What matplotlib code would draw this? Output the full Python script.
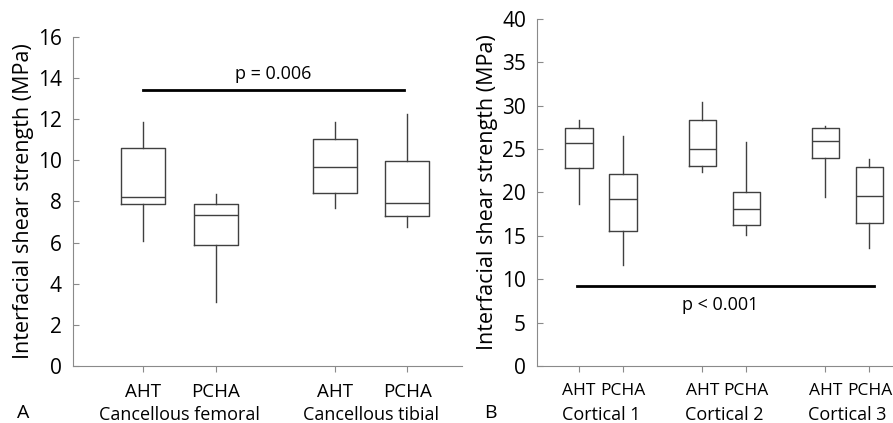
import numpy as np
import matplotlib.pyplot as plt

plt.rcParams['font.family'] = ['Open Sans', 'DejaVu Sans']

# ---------------------------------------------------------------------
# Panel A: cancellous bone (whisker low, Q1, median, Q3, whisker high)
a_labels = ["AHT", "PCHA", "AHT", "PCHA"]
a_groups = ["Cancellous femoral", "Cancellous tibial"]
a_low = [6.1, 3.1, 7.7, 6.75]
a_q1 = [7.88, 5.9, 8.4, 7.28]
a_med = [8.23, 7.32, 9.68, 7.94]
a_q3 = [10.6, 7.87, 11.05, 9.98]
a_high = [11.85, 8.37, 11.87, 12.27]

# Panel B: cortical bone
b_labels = ["AHT", "PCHA", "AHT", "PCHA", "AHT", "PCHA"]
b_groups = ["Cortical 1", "Cortical 2", "Cortical 3"]
b_low = [18.65, 11.6, 22.4, 15.15, 19.45, 13.55]
b_q1 = [22.8, 15.55, 23.05, 16.2, 23.95, 16.45]
b_med = [25.65, 19.25, 25.0, 18.15, 25.95, 19.6]
b_q3 = [27.45, 22.15, 28.3, 20.1, 27.45, 22.95]
b_high = [28.35, 26.5, 30.45, 25.8, 27.65, 23.85]
#----------------------------------------------------------------------

box_col = '#404040'
spine_col = '#8a8a8a'


def make_stats(low, q1, med, q3, high):
    stats = []
    for i in range(len(low)):
        stats.append(dict(whislo=low[i], q1=q1[i], med=med[i], q3=q3[i],
                          whishi=high[i], fliers=[]))
    return stats


def style_axis(ax, xsize):
    ax.spines['top'].set_visible(False)
    ax.spines['right'].set_visible(False)
    ax.spines['left'].set_color(spine_col)
    ax.spines['bottom'].set_color(spine_col)
    ax.tick_params(axis='y', direction='in', length=4, color=spine_col,
                   labelsize=15, pad=8)
    ax.tick_params(axis='x', direction='out', length=4, color=spine_col,
                   labelsize=xsize, pad=8)


line_props = dict(color=box_col, linewidth=1.0)

fig = plt.figure(figsize=(8.93, 4.23), dpi=100)

# ----- Panel A -----
ax1 = fig.add_axes([0.0817, 0.1348, 0.4356, 0.7778])
pos_a = [0, 1, 2.63, 3.62]
ax1.bxp(make_stats(a_low, a_q1, a_med, a_q3, a_high), positions=pos_a,
        widths=0.6, showcaps=False, boxprops=line_props,
        whiskerprops=line_props, medianprops=line_props)
ax1.set_xlim(-0.96, 4.37)
ax1.set_ylim(0, 16)
ax1.set_yticks(np.arange(0, 17, 2))
ax1.set_xticks(pos_a)
ax1.set_xticklabels(a_labels)
style_axis(ax1, 13.5)
ax1.set_ylabel("Interfacial shear strength (MPa)", fontsize=15.5, labelpad=3)
ax1.plot([0, 3.58], [13.4, 13.4], color='black', linewidth=2, clip_on=False)
ax1.text(1.78, 13.75, "p = 0.006", ha='center', va='bottom', fontsize=13)
for i, g in enumerate(a_groups):
    cx = (pos_a[2 * i] + pos_a[2 * i + 1]) / 2
    ax1.text(cx, -0.15, g, transform=ax1.get_xaxis_transform(),
             ha='center', va='center', fontsize=13)
fig.text(23 / 893, 1 - 413 / 423, "A", ha='center', va='center', fontsize=14)

# ----- Panel B -----
ax2 = fig.add_axes([537 / 893, 0.1348, (905 - 537) / 893, (366 - 19) / 423])
pos_b = [0, 1, 2.8, 3.8, 5.6, 6.6]
ax2.bxp(make_stats(b_low, b_q1, b_med, b_q3, b_high), positions=pos_b,
        widths=0.62, showcaps=False, boxprops=line_props,
        whiskerprops=line_props, medianprops=line_props)
ax2.set_xlim(-0.955, (905 - 579) / 44)
ax2.set_ylim(0, 40)
ax2.set_yticks(np.arange(0, 41, 5))
ax2.set_xticks(pos_b)
ax2.set_xticklabels(b_labels)
style_axis(ax2, 12.5)
ax2.set_ylabel("Interfacial shear strength (MPa)", fontsize=15.5, labelpad=3)
ax2.plot([-0.05, 6.7], [9.25, 9.25], color='black', linewidth=2, clip_on=False)
ax2.text(3.2, 7.0, "p < 0.001", ha='center', va='center', fontsize=13)
for i, g in enumerate(b_groups):
    cx = (pos_b[2 * i] + pos_b[2 * i + 1]) / 2
    ax2.text(cx, -0.14, g, transform=ax2.get_xaxis_transform(),
             ha='center', va='center', fontsize=13)
fig.text(490 / 893, 1 - 413 / 423, "B", ha='center', va='center', fontsize=14)

fig.savefig("out.png", dpi=100)
